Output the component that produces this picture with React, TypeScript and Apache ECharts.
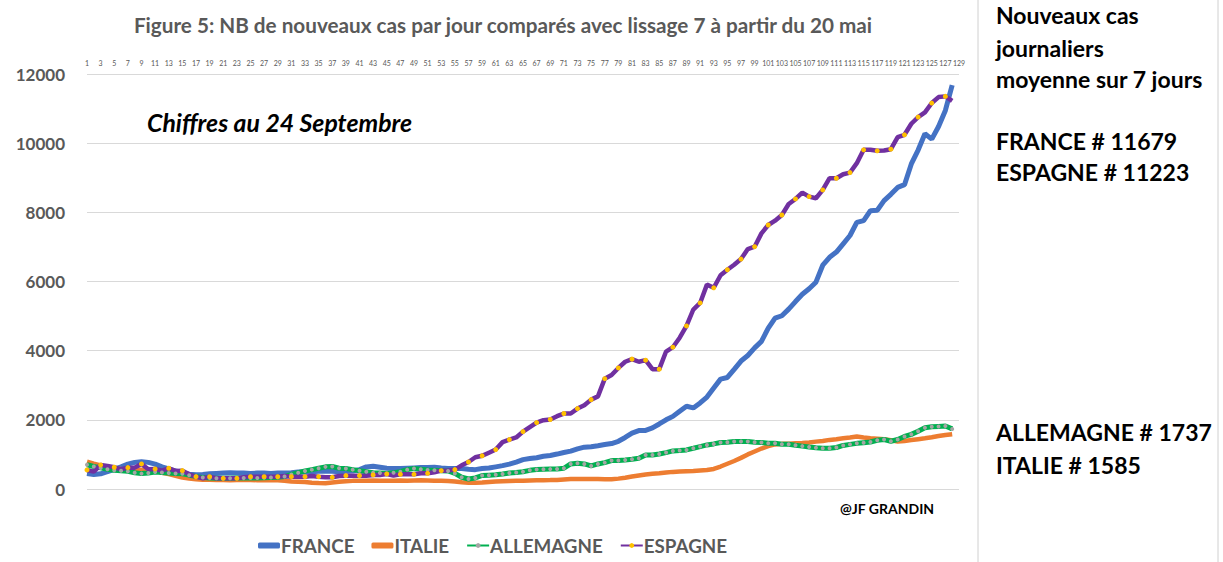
import React, { useEffect, useRef } from "react";
import * as echarts from "echarts";

const categories: string[] = Array.from({ length: 129 }, (_, i) => String(i + 1));

const france = [
  450, 420, 440, 500, 570, 640, 720, 770, 790, 770,
  720, 640, 580, 520, 470, 430, 410, 420, 440, 450,
  460, 470, 460, 460, 450, 460, 460, 450, 460, 460,
  470, 490, 500, 500, 510, 520, 510, 500, 510, 520,
  560, 640, 660, 630, 600, 590, 590, 600, 610, 620,
  620, 630, 610, 595, 593, 590, 570, 560, 593, 605,
  640, 675, 720, 780, 850, 880, 905, 945, 970, 1010,
  1055, 1095, 1160, 1210, 1220, 1250, 1285, 1315, 1380, 1490,
  1615, 1690, 1694, 1765, 1880, 2000, 2100, 2249, 2392, 2345,
  2488, 2660, 2919, 3177, 3225, 3460, 3700, 3860, 4080, 4270,
  4650, 4940, 5010, 5200, 5420, 5630, 5790, 5980, 6470, 6700,
  6850, 7090, 7330, 7710, 7760, 8049, 8060, 8340, 8520, 8720,
  8800, 9400, 9800, 10270, 10116, 10483, 10947, 11679,
];

const italie = [
  790, 730, 680, 640, 600, 580, 570, 560, 560, 550,
  530, 470, 430, 380, 330, 300, 280, 270, 265, 260,
  260, 255, 260, 265, 260, 255, 250, 250, 250, 240,
  220, 210, 200, 180, 170, 165, 190, 210, 225, 235,
  240, 240, 245, 240, 235, 240, 245, 240, 245, 250,
  245, 240, 235, 230, 215, 195, 180, 180, 190, 205,
  215, 225, 230, 235, 240, 245, 250, 255, 258, 262,
  275, 288, 290, 290, 290, 288, 284, 280, 300, 328,
  360, 390, 420, 440, 454, 475, 495, 505, 515, 522,
  535, 548, 580, 650, 730, 810, 900, 1000, 1085, 1170,
  1240, 1290, 1305, 1310, 1320, 1330, 1345, 1370, 1390, 1420,
  1440, 1470, 1490, 1515, 1490, 1468, 1455, 1439, 1410, 1375,
  1390, 1415, 1440, 1465, 1495, 1530, 1560, 1585,
];

const allemagne = [
  700, 650, 610, 570, 545, 530, 510, 470, 445, 465,
  490, 480, 460, 450, 440, 400, 365, 330, 315, 310,
  310, 312, 315, 315, 320, 320, 325, 330, 340, 360,
  420, 470, 520, 560, 600, 640, 650, 600, 590, 560,
  530, 500, 470, 460, 450, 470, 500, 560, 590, 570,
  550, 545, 530, 520, 450, 340, 290, 320, 390, 400,
  410, 435, 465, 475, 500, 540, 565, 570, 575, 580,
  600, 725, 744, 725, 667, 725, 763, 821, 821, 840,
  860, 889, 985, 985, 1014, 1053, 1101, 1111, 1130, 1178,
  1227, 1275, 1304, 1343, 1352, 1372, 1372, 1372, 1352, 1343,
  1323, 1323, 1294, 1294, 1265, 1240, 1215, 1195, 1180, 1180,
  1200, 1260, 1290, 1320, 1340, 1360, 1410, 1430, 1380, 1430,
  1520, 1580, 1670, 1770, 1800, 1810, 1820, 1737,
];

const espagne = [
  551, 502, 696, 667, 628, 570, 618, 618, 725, 570,
  580, 531, 599, 522, 531, 425, 357, 309, 357, 309,
  309, 309, 309, 338, 357, 357, 357, 357, 357, 377,
  357, 357, 357, 377, 357, 338, 338, 377, 386, 386,
  386, 386, 406, 406, 435, 390, 425, 425, 425, 454,
  454, 483, 530, 535, 560, 685, 780, 918, 960, 1050,
  1140, 1355, 1428, 1490, 1660, 1790, 1920, 1990, 2010, 2105,
  2182, 2182, 2325, 2421, 2584, 2679, 3190, 3295, 3500, 3680,
  3755, 3680, 3725, 3465, 3465, 3975, 4100, 4375, 4715, 5190,
  5380, 5910, 5818, 6180, 6340, 6485, 6648, 6938, 7006, 7392,
  7634, 7759, 7923, 8242, 8387, 8571, 8455, 8406, 8648, 8986,
  8986, 9102, 9150, 9421, 9807, 9807, 9778, 9788, 9826, 10174,
  10242, 10561, 10754, 10889, 11160, 11333, 11353, 11223,
];

const seriesNames = ["FRANCE", "ITALIE", "ALLEMAGNE", "ESPAGNE"];
const titleText = "Figure 5: NB de nouveaux cas par jour comparés avec lissage 7 à partir du 20 mai";
const sideLinesTop = ["Nouveaux cas", "journaliers", "moyenne sur 7 jours", "", "FRANCE # 11679", "ESPAGNE # 11223"];
const sideLinesBottom = ["ALLEMAGNE # 1737", "ITALIE # 1585"];

const FONT = "Lato, 'Open Sans', sans-serif";

export default function App() {
  const ref = useRef<HTMLDivElement>(null);
  useEffect(() => {
    if (!ref.current) return;
    const chart = echarts.init(ref.current, undefined, { renderer: "svg" });
    const textEl = (text: string, x: number, y: number, size: number, opts: any = {}) => ({
      type: "text",
      x,
      y,
      style: {
        text,
        fontSize: size,
        fontWeight: "bold",
        fontFamily: FONT,
        fill: "#000",
        textAlign: "left",
        textVerticalAlign: "middle",
        verticalAlign: "middle",
        ...opts,
      },
    });
    const graphics: any[] = [
      { type: "line", shape: { x1: 978, y1: 0, x2: 978, y2: 562 }, style: { stroke: "#d0d0d0", lineWidth: 1 } },
      { type: "line", shape: { x1: 1218, y1: 0, x2: 1218, y2: 562 }, style: { stroke: "#d0d0d0", lineWidth: 1 } },
      textEl(titleText, 503, 25, 20.7, { fill: "#595959", textAlign: "center" }),
      textEl("Chiffres au 24 Septembre", 147, 122, 24.8, { fontStyle: "italic" }),
      textEl("@JF GRANDIN", 840, 508, 14),
    ];
    const topYs = [15, 48, 79, 110, 141, 172];
    sideLinesTop.forEach((t, i) => {
      if (t) graphics.push(textEl(t, 996, topYs[i], 23));
    });
    const botYs = [432, 465];
    sideLinesBottom.forEach((t, i) => graphics.push(textEl(t, 996, botYs[i], 23)));

    chart.setOption({
      animation: false,
      grid: { left: 87, right: 264, top: 74, bottom: 73, containLabel: false },
      legend: {
        data: [
          { name: "FRANCE", icon: "roundRect" },
          { name: "ITALIE", icon: "roundRect" },
          { name: "ALLEMAGNE" },
          { name: "ESPAGNE" },
        ],
        left: 253,
        top: 531,
        itemWidth: 22,
        itemHeight: 6,
        itemGap: 17,
        textStyle: { fontSize: 18.8, fontWeight: "bold", color: "#595959", fontFamily: FONT, padding: [0, 0, 0, -4] },
      },
      xAxis: {
        type: "category",
        data: categories,
        position: "top",
        boundaryGap: false,
        axisLine: { show: false },
        axisTick: { show: false },
        axisLabel: { interval: 1, fontSize: 7, color: "#595959", fontFamily: FONT, margin: 8 },
        splitLine: { show: false },
      },
      yAxis: {
        type: "value",
        min: 0,
        max: 12000,
        interval: 2000,
        axisLine: { show: false },
        axisTick: { show: false },
        axisLabel: {
          fontSize: 17,
          fontWeight: "bold",
          color: "#595959",
          fontFamily: FONT,
          margin: 22,
          formatter: (v: number) => String(v),
        },
        splitLine: { lineStyle: { color: "#d9d9d9", width: 1 } },
      },
      series: [
        {
          name: "FRANCE",
          type: "line",
          data: france,
          symbol: "none",
          lineStyle: { color: "#4472C4", width: 5 },
          itemStyle: { color: "#4472C4" },
        },
        {
          name: "ITALIE",
          type: "line",
          data: italie,
          symbol: "none",
          lineStyle: { color: "#ED7D31", width: 4.5 },
          itemStyle: { color: "#ED7D31" },
        },
        {
          name: "ALLEMAGNE",
          type: "line",
          data: allemagne,
          symbol: "circle",
          symbolSize: 4,
          lineStyle: { color: "#00B050", width: 5 },
          itemStyle: { color: "#A5A5A5", borderWidth: 0 },
        },
        {
          name: "ESPAGNE",
          type: "line",
          data: espagne,
          symbol: "circle",
          symbolSize: 5,
          lineStyle: { color: "#7030A0", width: 4.5 },
          itemStyle: { color: "#FFC000", borderWidth: 0 },
        },
      ],
      graphic: graphics,
    });
    return () => chart.dispose();
  }, []);
  return (
    <div
      ref={ref}
      style={{ position: "fixed", left: 0, top: 0, width: 1223, height: 562, background: "#fff" }}
    />
  );
}
